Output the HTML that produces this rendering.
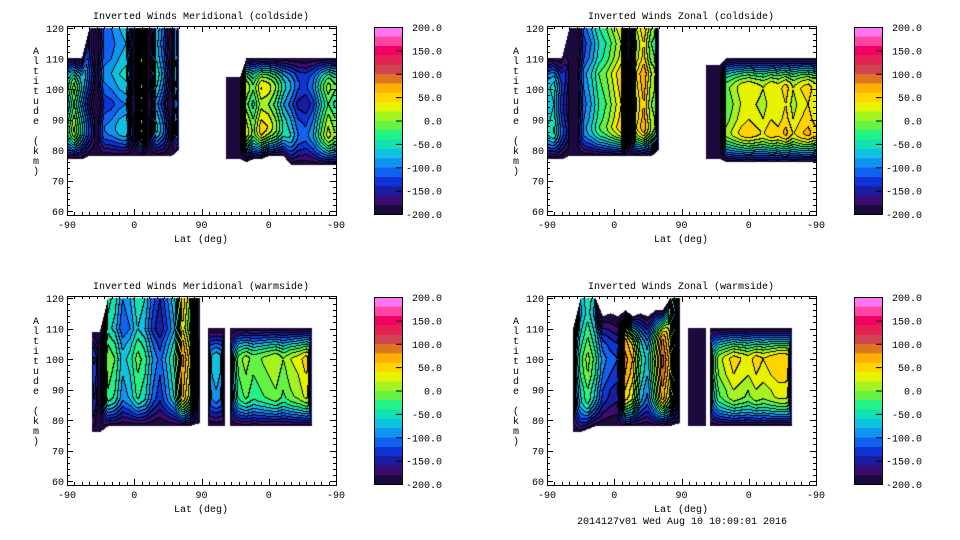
<!DOCTYPE html>
<html><head><meta charset="utf-8"><style>
body{margin:0;background:#fff;width:960px;height:540px;overflow:hidden;position:relative;font-family:"Liberation Mono","DejaVu Sans Mono",monospace}
canvas{position:absolute}
svg{position:absolute;left:0;top:0}
</style></head><body>
<svg id="svg" width="960" height="540"></svg>
<script>
// ---- data ----
const colorBandValues = [-200,-180,-160,-140,-120,-100,-80,-60,-40,-20,0,20,40,60,80,100,120,140,160,180];
const colorbarTicks = ["200.0","150.0","100.0","50.0","0.0","-50.0","-100.0","-150.0","-200.0"];
const latTickLabels = ["-90","0","90","0","-90"];
const altTicks = [60,70,80,90,100,110,120];
const panelTitles = ["Inverted Winds Meridional (coldside)","Inverted Winds Zonal (coldside)","Inverted Winds Meridional (warmside)","Inverted Winds Zonal (warmside)"];
// vertical profile offsets per panel at altitudes 75..120 step 5
const profAlt = [75,80,85,90,95,100,105,110,115,120];
const tlProf = [0,10,20,0,-30,0,20,0,-10,0];
const trProf = [0,20,30,10,0,10,20,-10,-20,0];
const blProf = [0,-20,0,10,20,30,10,-20,-10,0];
const brProf = [0,-20,-10,0,20,30,10,-10,-30,-20];
const tlU = [0,10,20,30,40,50,60,70,80,90,100,110,120,130,140,150];
const tlV = [-60,10,-60,-130,-200,-110,-100,-80,-70,-200,0,-200,-60,-110,-200,20];
const tlB = [77,77,77,78,78,78,78,78,78,78,78,78,78,78,78,80];
const tlT = [110,110,110,120,120,120,120,120,120,120,120,120,120,120,120,120];
const tl2U = [213,222,232,240,250,260,270,280,290,300,310,320,330,340,350,360];
const tl2V = [-190,-200,-190,20,-20,40,30,0,-50,-80,-120,-130,-100,-40,10,-20];
const tl2B = [77,77,77,76,77,77,78,78,78,75,75,75,75,75,75,75];
const tl2T = [104,104,104,110,110,110,110,110,110,110,110,110,110,110,110,110];
const trU = [0,10,20,30,40,50,60,70,80,90,100,110,120,130,140,150];
const trV = [-80,-60,-130,-180,-200,-110,-80,-40,-20,10,40,-200,20,60,0,-20];
const trB = [77,77,77,78,78,78,78,78,78,78,78,78,78,78,78,80];
const trT = [110,110,110,120,120,120,120,120,120,120,120,120,120,120,120,120];
const tr2U = [213,222,232,240,250,260,270,280,290,300,310,320,330,340,350,360];
const tr2V = [-180,-200,-190,-20,0,20,30,20,10,30,20,40,10,30,40,20];
const tr2B = [77,77,77,76,76,76,76,76,76,76,76,76,76,76,76,76];
const tr2T = [108,108,108,110,110,110,110,110,110,110,110,110,110,110,110,110];
const blU = [33,44,55,65,75,85,95,105,115,125,135,145,155,165,178];
const blV = [-100,-200,-30,-50,-100,-80,-40,-60,-110,-140,-100,-60,60,0,-200];
const blB = [76,76,78,78,78,78,78,78,78,78,78,78,78,78,79];
const blT = [109,109,120,120,120,120,120,120,120,120,120,120,120,120,120];
const bl2U = [189,200,211];
const bl2V = [-110,-90,-110];
const bl2B = [78,78,78];
const bl2T = [110,110,110];
const bl3U = [218,230,240,250,260,270,280,290,300,310,320,328];
const bl3V = [-150,-40,-20,-40,-30,-20,-10,-30,-10,0,20,10];
const bl3B = [78,78,78,78,78,78,78,78,78,78,78,78];
const bl3T = [110,110,110,110,110,110,110,110,110,110,110,110];
const brU = [35,45,55,65,75,85,95,105,115,125,135,145,155,165,178];
const brV = [-150,-60,-20,-60,-120,-140,-150,60,30,-60,-100,-20,80,20,-150];
const brB = [76,76,77,78,78,78,78,78,78,78,78,78,78,78,79];
const brT = [110,120,120,120,114,115,114,116,114,115,114,116,116,120,120];
const br2U = [189,200,213];
const br2V = [-180,-200,-180];
const br2B = [78,78,78];
const br2T = [110,110,110];
const br3U = [218,230,240,250,260,270,280,290,300,310,320,328];
const br3V = [-100,-20,0,20,10,0,20,10,20,30,30,20];
const br3B = [78,78,78,78,78,78,78,78,78,78,78,78];
const br3T = [110,110,110,110,110,110,110,110,110,110,110,110];

const bandColors = ["#1c0a3c","#3c0c72","#1a1c9e","#1034d4","#1262f2","#1094f2","#10c2e2","#12e2b2","#24f284","#64f244","#a4f222","#e6f200","#ffd400","#ffb000","#de7422","#d24452","#e22052","#f20062","#ff44a4","#ff74f2"];
const panels = [
 {ox:0,oy:0,prof:tlProf,regions:[[tlU,tlV,tlB,tlT],[tl2U,tl2V,tl2B,tl2T]]},
 {ox:480,oy:0,prof:trProf,regions:[[trU,trV,trB,trT],[tr2U,tr2V,tr2B,tr2T]]},
 {ox:0,oy:270,prof:blProf,regions:[[blU,blV,blB,blT],[bl2U,bl2V,bl2B,bl2T],[bl3U,bl3V,bl3B,bl3T]]},
 {ox:480,oy:270,prof:brProf,regions:[[brU,brV,brB,brT],[br2U,br2V,br2B,br2T],[br3U,br3V,br3B,br3T]]}
];
// ---- scales ----
const X0=67,X1=336,BOXT=26,BOXB=215;
const xS=u=>X0+u*(X1-X0)/360;
const uInv=x=>(x-X0)*360/(X1-X0);
const yS=a=>28+(120-a)*3.05;
const aInv=y=>120-(y-28)/3.05;
const NS="http://www.w3.org/2000/svg";
const svg=document.getElementById('svg');
function el(tag,attrs,parent){const e=document.createElementNS(NS,tag);for(const k in attrs)e.setAttribute(k,attrs[k]);(parent||svg).appendChild(e);return e;}
function interp(arr,U,u){if(u<=U[0])return arr[0];if(u>=U[U.length-1])return arr[arr.length-1];for(let i=0;i<U.length-1;i++){if(u>=U[i]&&u<=U[i+1]){const t=(u-U[i])/(U[i+1]-U[i]);return arr[i]+(arr[i+1]-arr[i])*t;}}return null;}
function sample(reg,prof,u,a){const [U,V,B,T]=reg;const u0=U[0],u1=U[U.length-1];if(u<u0||u>u1)return null;
 const b=interp(B,U,u),t=interp(T,U,u);if(a<b||a>t)return null;
 let v=interp(V,U,u);
 if(v>-180)v=Math.min(200,v+interp(prof,profAlt,a));
 let f=0;const D=10;const d1=a-b;if(d1<D)f=Math.max(f,Math.pow(1-d1/D,1.6));
 if(t<119.5){const d2=t-a;if(d2<D)f=Math.max(f,Math.pow(1-d2/D,1.6));}
 const H=6;const e1=u-u0,e2=u1-u;if(u0>0.5&&e1<H)f=Math.max(f,Math.pow(1-e1/H,2));if(u1<359.5&&e2<H)f=Math.max(f,Math.pow(1-e2/H,2));
 return v-(v+200)*f;}
panels.forEach((p,pi)=>{
 const g=el('g',{},svg);
 
 
 const W=X1-X0,H=BOXB-BOXT;
 const cv=document.createElement('canvas');cv.width=W;cv.height=H;
 cv.style.left=(p.ox+X0)+'px';cv.style.top=(p.oy+BOXT)+'px';
 
 
 document.body.insertBefore(cv,svg);
 const ctx=cv.getContext('2d');
 const band=[];
 for(let y=0;y<H;y++){band.push([]);for(let x=0;x<W;x++){
  const u=uInv(X0+x+0.5),a=aInv(BOXT+y+0.5);let v=null;
  for(const r of p.regions){const s=sample(r,p.prof,u,a);if(s!==null){v=s;break;}}
  band[y].push(v===null?-1:Math.max(0,Math.min(19,Math.floor((v+200)/20))));}}
 const img=ctx.createImageData(W,H);
 const rgb=bandColors.map(c=>[parseInt(c.substr(1,2),16),parseInt(c.substr(3,2),16),parseInt(c.substr(5,2),16)]);
 for(let y=0;y<H;y++)for(let x=0;x<W;x++){const b=band[y][x];const i=(y*W+x)*4;
  if(b<0){img.data[i]=255;img.data[i+1]=255;img.data[i+2]=255;img.data[i+3]=255;continue;}
  let line=false;if(x<W-1&&band[y][x+1]>=0&&band[y][x+1]!==b)line=true;if(y<H-1&&band[y+1][x]>=0&&band[y+1][x]>b)line=true;if(y>0&&band[y-1][x]>=0&&band[y-1][x]>b)line=true;
  const c=line?[0,0,0]:rgb[b];img.data[i]=c[0];img.data[i+1]=c[1];img.data[i+2]=c[2];img.data[i+3]=255;}
 ctx.putImageData(img,0,0);
 const box=el('rect',{x:p.ox+X0+0.5,y:p.oy+BOXT+0.5,width:X1-X0,height:BOXB-BOXT,fill:'none',stroke:'#000'},g);
 
 for(let a=60;a<=120;a+=2){const y=Math.round(yS(a)+p.oy)+0.5;const L=(a%10===0)?6:3;
  el('line',{x1:p.ox+X0,x2:p.ox+X0+L,y1:y,y2:y,stroke:'#000'},g);
  el('line',{x1:p.ox+X1,x2:p.ox+X1-L,y1:y,y2:y,stroke:'#000'},g);}
 altTicks.forEach(a=>{const t=el('text',{x:p.ox+X0-3,y:yS(a)+p.oy+4,'text-anchor':'end','font-size':'10',fill:'#000'},g);t.textContent=a;
  });
 for(let u=0;u<=360;u+=10){const x=Math.round(xS(u)+p.ox)+0.5;const L=(u%90===0)?6:3;
  el('line',{x1:x,x2:x,y1:p.oy+BOXB,y2:p.oy+BOXB-L,stroke:'#000'},g);
  el('line',{x1:x,x2:x,y1:p.oy+BOXT,y2:p.oy+BOXT+L,stroke:'#000'},g);}
 latTickLabels.forEach((s,i)=>{const t=el('text',{x:xS(i*90)+p.ox,y:p.oy+BOXB+13,'text-anchor':'middle','font-size':'10',fill:'#000'},g);t.textContent=s;
  });
 const xt=el('text',{x:p.ox+201,y:p.oy+242,'text-anchor':'middle','font-size':'10',fill:'#000'},g);xt.textContent='Lat (deg)';
 
 const yt=el('g',{},g);
 const ys='Altitude (km)';for(let i=0;i<ys.length;i++){const t=el('text',{x:p.ox+36,y:p.oy+54+i*10,'text-anchor':'middle','font-size':'10',fill:'#000'},yt);t.textContent=ys[i];}
 const tt=el('text',{x:p.ox+201,y:p.oy+19,'text-anchor':'middle','font-size':'10',fill:'#000'},g);tt.textContent=panelTitles[pi];
 
 const cb=el('g',{},g);
 const CT=27,CB=214,CX=374,CW=28,bh=(CB-CT)/colorBandValues.length;
 colorBandValues.forEach((v,i)=>{const r=el('rect',{x:p.ox+CX,y:p.oy+CB-(i+1)*bh,width:CW,height:bh+0.3,fill:bandColors[i]},cb);
  });
 el('rect',{x:p.ox+CX+0.5,y:p.oy+CT+0.5,width:CW,height:CB-CT,fill:'none',stroke:'#000'},cb);
 colorbarTicks.forEach((s,i)=>{const y=p.oy+CT+i*(CB-CT)/8;
  if(i>0&&i<8)el('line',{x1:p.ox+CX+CW-6,x2:p.ox+CX+CW,y1:y+0.5,y2:y+0.5,stroke:'#000'},cb);
  const t=el('text',{x:p.ox+442,y:y+4,'text-anchor':'end','font-size':'10',fill:'#000'},cb);t.textContent=s;
  });
});
const ft=el('text',{x:682,y:524,'text-anchor':'middle','font-size':'10',fill:'#000'});ft.textContent='2014127v01 Wed Aug 10 10:09:01 2016';

</script>
</body></html>
